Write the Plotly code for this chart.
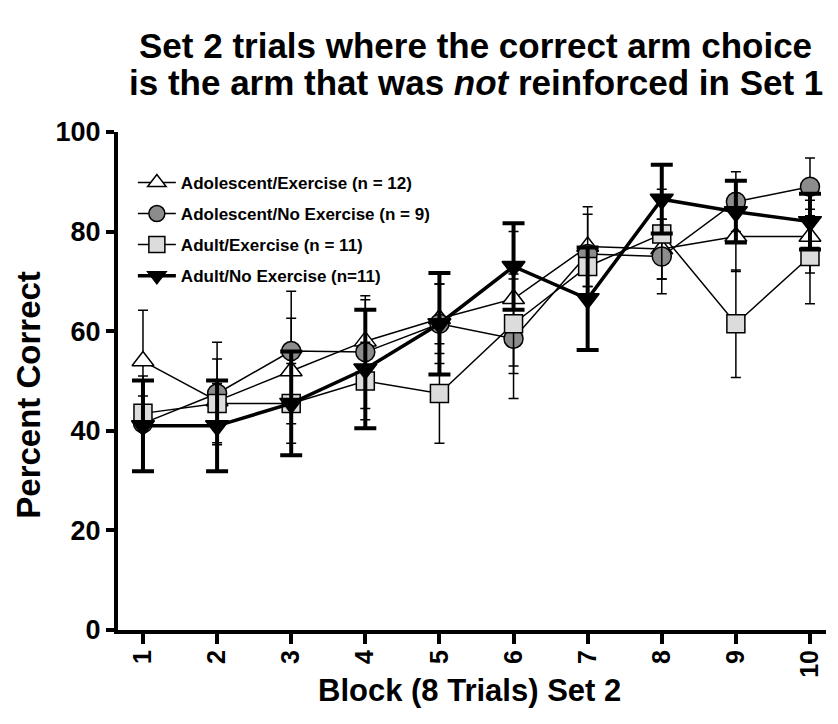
import plotly.graph_objects as go

blocks = [1, 2, 3, 4, 5, 6, 7, 8, 9, 10]
tick_labels = ["1", "2", "3", "4", "5", "6", "7", "8", "9", "10"]

ado_ex = [54, 46, 52, 58, 62.5, 66.5, 77, 76.5, 79, 79]
ado_ex_err = [10.2, 8.4, 10.6, 8.3, 7, 13.5, 8, 6, 7, 7.3]

ado_noex = [41.5, 47.5, 56, 55.8, 61.5, 58.5, 75.5, 75, 86, 89]
ado_noex_err = [9.5, 10.3, 12, 11.3, 8, 12, 8, 7.5, 6, 5.8]

adult_ex = [43.5, 45.5, 45.5, 50, 47.5, 61.5, 73, 79.5, 61.5, 75]
adult_ex_err = [3.5, 4, 8, 7.8, 10, 10, 4, 9, 10.8, 9.5]

adult_noex = [41, 41, 45.5, 52.4, 61.5, 73, 66.5, 86.5, 84, 82]
adult_noex_err = [9.1, 9.1, 10.4, 11.9, 10.2, 8.7, 10.3, 6.9, 6.2, 5.6]

FONT = "Liberation Sans, Arial, sans-serif"

fig = go.Figure()

def add(name, y, err, symbol, fill, lw, ethick, ewidth, msize, group):
    fig.add_trace(go.Scatter(
        x=blocks, y=y, name=name, mode="lines+markers",
        legendgroup=group,
        line=dict(color="black", width=lw),
        marker=dict(symbol=symbol, size=msize, color=fill,
                    line=dict(color="black", width=1.5)),
        error_y=dict(type="data", array=err, visible=True, color="black",
                     thickness=ethick, width=ewidth),
    ))

add("Adolescent/Exercise (n = 12)", ado_ex, ado_ex_err, "triangle-up", "white", 1.5, 1.5, 5, 19, "a")
add("Adolescent/No Exercise (n = 9)", ado_noex, ado_noex_err, "circle", "#8c8c8c", 1.5, 1.5, 5, 19, "b")
add("Adult/Exercise (n = 11)", adult_ex, adult_ex_err, "square", "#dcdcdc", 1.5, 1.5, 5, 18, "c")
add("Adult/No Exercise (n=11)", adult_noex, adult_noex_err, "triangle-down", "black", 3.5, 4, 11, 20, "d")

# page body has an 8px margin, so the figure is sized/offset to compensate
fig.update_layout(
    width=830, height=716,
    margin=dict(l=110, r=12, t=124, b=94, autoexpand=False),
    plot_bgcolor="white", paper_bgcolor="white",
    font=dict(family=FONT, color="black"),
    showlegend=True,
    legend=dict(x=0.021, y=0.934, xanchor="left", yanchor="top",
                bgcolor="rgba(0,0,0,0)", tracegroupgap=6, itemwidth=38,
                font=dict(family=FONT, size=17, weight="bold", color="black")),
)

fig.update_xaxes(
    range=[0.663, 10.216], tickmode="array", tickvals=blocks, ticktext=tick_labels,
    tickangle=-90, ticks="outside", ticklen=10, tickwidth=4, tickcolor="black",
    showline=True, linewidth=4, linecolor="black", showgrid=False, zeroline=False,
    automargin=False, ticklabelstandoff=-4,
    tickfont=dict(family=FONT, size=25, weight="bold", color="black"),
)
fig.update_yaxes(
    range=[0, 100], tickvals=[0, 20, 40, 60, 80, 100],
    ticks="outside", ticklen=8, tickwidth=4, tickcolor="black",
    showline=True, linewidth=4, linecolor="black", showgrid=False, zeroline=False,
    automargin=False,
    tickfont=dict(family=FONT, size=27, weight="bold", color="black"),
)

fig.add_annotation(text="<b>Set 2 trials where the correct arm choice</b>",
                   xref="paper", yref="paper", x=0.5056, y=1.1727,
                   xanchor="center", yanchor="middle", showarrow=False,
                   font=dict(family=FONT, size=35, color="black"))
fig.add_annotation(text="<b>is the arm that was <i>not</i> reinforced in Set 1</b>",
                   xref="paper", yref="paper", x=0.5056, y=1.0984,
                   xanchor="center", yanchor="middle", showarrow=False,
                   font=dict(family=FONT, size=35, color="black"))
fig.add_annotation(text="<b>Block (8 Trials) Set 2</b>",
                   xref="paper", yref="paper", x=0.497, y=-0.1205,
                   xanchor="center", yanchor="middle", showarrow=False,
                   font=dict(family=FONT, size=31, color="black"))
fig.add_annotation(text="<b>Percent Correct</b>", textangle=-90,
                   xref="paper", yref="paper", x=-0.126, y=0.472,
                   xanchor="center", yanchor="middle", showarrow=False,
                   font=dict(family=FONT, size=33, color="black"))

fig.write_html("out.html")
